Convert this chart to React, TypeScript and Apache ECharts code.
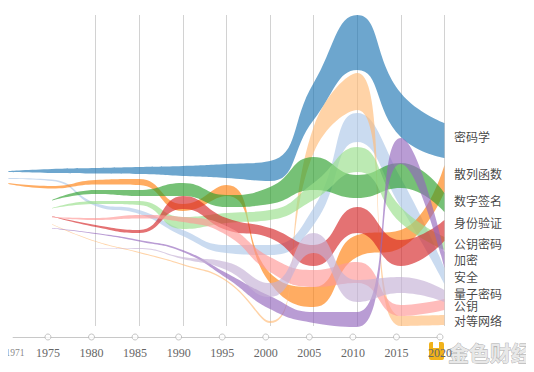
import React, { useEffect, useRef } from "react";
import * as echarts from "echarts";

// ---- data ----
const YEARS = ["1970", "1975", "1980", "1985", "1990", "1995", "2000", "2005", "2010", "2015", "2020"];
const FIRST_LABEL_YEAR = 1971;
const AXIS_LABEL_YEARS = [1975, 1980, 1985, 1990, 1995, 2000, 2005, 2010, 2015, 2020];
const TICK_YEARS = [1975, 1980, 1985, 1990, 1995, 2000, 2005, 2010, 2015, 2020];

const TOPICS = ["密码学", "安全", "散列函数", "对等网络", "数字签名", "公钥密码", "身份验证", "公钥", "加密", "量子密码"];
const COLORS = ["#1f77b4", "#aec7e8", "#ff7f0e", "#ffbb78", "#2ca02c", "#98df8a", "#d62728", "#ff9896", "#9467bd", "#c5b0d5"];

// position (top edge, in rank-position units) and thickness per year
const cryptoTop = [171, 169, 168, 167, 166, 164, 161, 83, 15, 93, 123];
const cryptoWidth = [1, 4, 5.5, 7, 10, 14, 20, 37, 55, 44, 35];
const securityTop = [178, 179.5, 203, 210, 230, 245, 245, 208, 113, 178, 268];
const securityWidth = [1, 1.5, 3, 4, 6, 8, 10, 17, 29, 29, 16];
const hashTop = [183, 186, 180, 179, 204, 185, 273, 287, 235, 230, 165];
const hashWidth = [1, 2.5, 4.5, 6, 7, 11, 10, 20, 22, 18, 27];
const p2pTop = [null, 224, 241, 252, 264, 280, 321, 127, 73, 316, 315];
const p2pWidth = [null, 0.5, 0.8, 1, 1.2, 1.5, 2, 26, 37, 10, 10];
const signatureTop = [null, 200, 190, 190, 183, 195, 187, 157, 175, 163, 193];
const signatureWidth = [null, 0.5, 4, 6, 13, 12, 17, 33, 23, 25, 19];
const pkCryptoTop = [null, 208, 201, 201, 217, 213, 210, 183, 147, 207, 237];
const pkCryptoWidth = [null, 0.5, 3, 4, 12, 10, 10, 17, 25, 16, 13];
const authTop = [null, 216, 225, 230, 196, 218, 228, 245, 207, 240, 220];
const authWidth = [null, 0.5, 2, 3, 13, 12, 10, 21, 26, 26, 21];
const publicKeyTop = [null, 217, 218, 215, 217, 226, 257, 270, 262, 305, 299];
const publicKeyWidth = [null, 0.5, 2, 3.5, 5, 9, 15, 17, 21, 11, 11];
const encryptionTop = [null, 228, 233, 240, 250, 273, 296, 312, 312, 138, 252];
const encryptionWidth = [null, 0.5, 1, 1.5, 2, 5, 13, 11, 15, 26, 16];
const quantumTop = [null, null, 248, 248, 257, 262, 283, 233, 280, 277, 290];
const quantumWidth = [null, null, 0.5, 1, 2, 8, 14, 20, 22, 16, 12];

const TOPS = [cryptoTop, securityTop, hashTop, p2pTop, signatureTop, pkCryptoTop, authTop, publicKeyTop, encryptionTop, quantumTop];
const WIDTHS = [cryptoWidth, securityWidth, hashWidth, p2pWidth, signatureWidth, pkCryptoWidth, authWidth, publicKeyWidth, encryptionWidth, quantumWidth];

// end label positions (same units), for labels at 2020
const LABEL_TOPICS = ["密码学", "散列函数", "数字签名", "身份验证", "公钥密码", "加密", "安全", "量子密码", "公钥", "对等网络"];
const LABEL_POS = [136, 173, 200, 222, 243, 259, 276, 293, 305, 320];

function bandSeries(name: string, color: string, tops: (number | null)[], widths: (number | null)[]) {
  const base = tops.map((v) => (v == null ? "-" : v));
  const band = widths.map((v) => (v == null ? "-" : v));
  const common = {
    type: "line",
    stack: name,
    smooth: 0.5,
    symbol: "none",
    clip: false,
    xAxisIndex: 0,
    yAxisIndex: 0,
    lineStyle: { width: 0, opacity: 0 },
    emphasis: { disabled: true },
    silent: true,
  };
  return [
    { ...common, name: name + "-base", data: base },
    { ...common, name, data: band, areaStyle: { color, opacity: 0.65 } },
  ];
}

export default function App() {
  const ref = useRef<HTMLDivElement>(null);
  useEffect(() => {
    if (!ref.current) return;
    const chart = echarts.init(ref.current, undefined, { renderer: "svg" });
    const series: any[] = [];
    TOPICS.forEach((t, i) => series.push(...bandSeries(t, COLORS[i], TOPS[i], WIDTHS[i])));
    series.push({
      type: "scatter",
      xAxisIndex: 0,
      yAxisIndex: 0,
      symbolSize: 1,
      itemStyle: { color: "rgba(0,0,0,0)" },
      silent: true,
      clip: false,
      data: LABEL_TOPICS.map((t, i) => ({ name: t, value: ["2020", LABEL_POS[i]] })),
      label: {
        show: true,
        position: "right",
        distance: 9,
        formatter: (p: any) => p.name,
        fontSize: 12,
        color: "#111",
        fontFamily: "Noto Sans CJK SC",
      },
    });
    series.push({
      type: "scatter",
      xAxisIndex: 1,
      yAxisIndex: 1,
      symbol: "circle",
      symbolSize: 6,
      silent: true,
      clip: false,
      itemStyle: { color: "#fff", borderColor: "#b5b5b5", borderWidth: 1 },
      data: TICK_YEARS.map((y) => [y, 0]),
      z: 5,
    });
    series.push({
      type: "scatter",
      xAxisIndex: 1,
      yAxisIndex: 1,
      symbolSize: 1,
      silent: true,
      clip: false,
      itemStyle: { color: "rgba(0,0,0,0)" },
      data: [{ value: [FIRST_LABEL_YEAR, 0], name: String(FIRST_LABEL_YEAR) }],
      label: {
        show: true,
        position: "bottom",
        distance: 10,
        offset: [2, 0],
        formatter: (p: any) => p.name,
        fontSize: 9.5,
        fontFamily: "Liberation Serif",
        color: "#666",
      },
    });

    chart.setOption({
      animation: false,
      grid: [
        { left: 8.4, right: 89.6, top: 15, bottom: 46 },
        { left: 13.1, right: 94, top: 0, bottom: 35 },
      ],
      xAxis: [
        {
          type: "category",
          gridIndex: 0,
          data: YEARS,
          boundaryGap: false,
          axisLine: { show: false },
          axisTick: { show: false },
          axisLabel: { show: false },
          splitLine: {
            show: true,
            showMinLine: false,
            interval: 0,
            lineStyle: { color: ["rgba(0,0,0,0)", "#d2d2d2", "#d2d2d2", "#d2d2d2", "#d2d2d2", "#d2d2d2", "#d2d2d2", "#d2d2d2", "#d2d2d2", "#d2d2d2", "#d2d2d2"], width: 1 },
          },
        },
        {
          type: "value",
          gridIndex: 1,
          min: 1971,
          max: 2020,
          axisLine: { show: true, lineStyle: { color: "#c8c8c8", width: 1 } },
          axisTick: { show: false },
          splitLine: { show: false },
          axisLabel: {
            customValues: AXIS_LABEL_YEARS,
            margin: 10,
            hideOverlap: false,
            fontFamily: "Liberation Serif",
            fontSize: 12,
            color: "#666",
            formatter: (v: number) => String(v),
          },
        },
      ],
      yAxis: [
        { type: "value", gridIndex: 0, min: 15, max: 326, inverse: true, show: false },
        { type: "value", gridIndex: 1, min: 0, max: 1, show: false },
      ],
      graphic: [
        {
          type: "rect",
          shape: { x: 1, y: 7, width: 600, height: 361 },
          style: { fill: "none", stroke: "#e2ecf5", lineWidth: 1.5 },
          silent: true,
          z: -10,
        },
        {
          type: "group",
          z: 100,
          children: [
            { type: "rect", shape: { x: 429, y: 342, width: 15, height: 18, r: 2 }, style: { fill: "#f1b21a" } },
            { type: "rect", shape: { x: 433, y: 342, width: 6, height: 6 }, style: { fill: "#fff" } },
            {
              type: "text",
              style: {
                x: 448,
                y: 352,
                text: "金色财经",
                font: "bold 21px 'Noto Sans CJK SC'",
                fill: "#e8e8e8",
                stroke: "#a8a8a8",
                lineWidth: 0.8,
                verticalAlign: "middle",
              },
            },
          ],
        },
      ],
      series,
    });
    return () => chart.dispose();
  }, []);
  return <div ref={ref} style={{ width: 534, height: 372, margin: -8 }} />;
}
